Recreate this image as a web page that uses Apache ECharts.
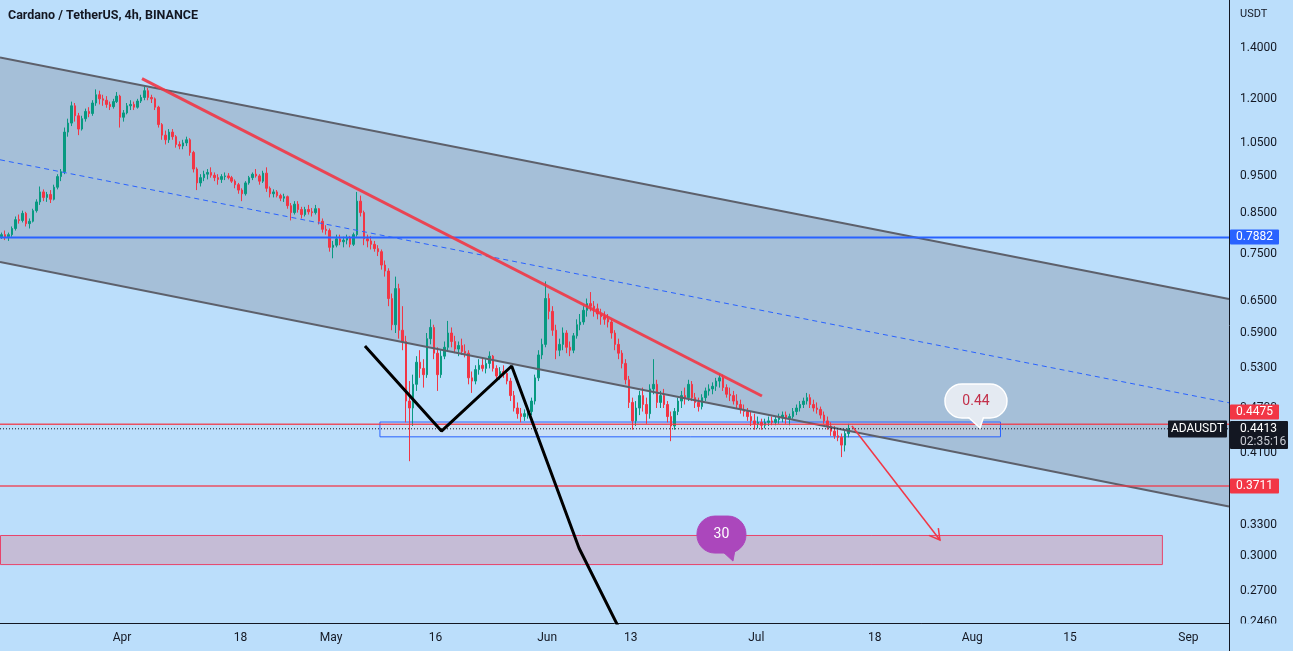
<!DOCTYPE html>
<html><head><meta charset="utf-8">
<script src="https://cdn.jsdelivr.net/npm/echarts@6/dist/echarts.min.js"></script>
<style>html,body{margin:0;padding:0;background:#bbdefb;}#main{width:1293px;height:651px;}</style>
</head><body><div id="main"></div>
<script>
// ---------------- DATA ----------------
// 12h candles, first one opens Mar 14 12:00; x = days relative to Apr 1
const candleStartDay = -17.5;
const candleStepDay = 0.5;
const firstOpen = 0.790;
// each row: [high, low, close]  (open = previous close)
const candles = [
[.800,.785,.795],[.805,.782,.790],[.800,.780,.795],[.815,.790,.810],[.840,.805,.832],[.845,.822,.830],[.855,.825,.848],[.852,.815,.822],
[.835,.810,.828],[.860,.825,.855],[.885,.850,.878],[.920,.870,.905],[.912,.880,.890],[.905,.878,.898],[.910,.875,.885],[.925,.882,.918],
[.955,.912,.948],[.970,.935,.962],[1.100,.955,1.085],[1.130,1.070,1.115],[1.190,1.105,1.175],[1.185,1.120,1.140],[1.150,1.075,1.095],[1.140,1.090,1.130],
[1.165,1.120,1.155],[1.170,1.135,1.148],[1.195,1.140,1.185],[1.235,1.175,1.215],[1.230,1.180,1.200],[1.215,1.175,1.195],[1.210,1.168,1.180],[1.190,1.160,1.172],
[1.200,1.165,1.190],[1.225,1.185,1.210],[1.215,1.100,1.135],[1.160,1.120,1.150],[1.185,1.145,1.175],[1.195,1.160,1.180],[1.190,1.160,1.170],[1.200,1.165,1.192],
[1.215,1.185,1.205],[1.245,1.195,1.230],[1.240,1.195,1.205],[1.215,1.185,1.200],[1.205,1.160,1.170],[1.175,1.100,1.110],[1.115,1.060,1.075],[1.090,1.045,1.060],
[1.095,1.050,1.085],[1.095,1.060,1.070],[1.075,1.035,1.045],[1.055,1.030,1.040],[1.060,1.030,1.050],[1.070,1.040,1.060],[1.065,1.010,1.020],[1.025,.960,.970],
[.975,.910,.930],[.955,.920,.945],[.965,.935,.955],[.970,.940,.960],[.975,.945,.952],[.960,.935,.945],[.955,.925,.940],[.955,.930,.948],
[.960,.938,.950],[.958,.940,.945],[.950,.930,.935],[.940,.915,.925],[.930,.900,.910],[.915,.880,.900],[.935,.895,.930],[.950,.925,.945],
[.960,.938,.955],[.970,.945,.950],[.955,.925,.935],[.965,.930,.958],[.975,.905,.915],[.920,.890,.900],[.912,.890,.905],[.910,.890,.895],
[.900,.880,.888],[.900,.878,.892],[.895,.860,.868],[.875,.830,.850],[.880,.845,.872],[.880,.850,.858],[.865,.835,.845],[.865,.840,.858],
[.870,.845,.852],[.862,.840,.850],[.870,.845,.860],[.862,.820,.828],[.835,.800,.808],[.818,.795,.805],[.810,.755,.765],[.780,.740,.770],
[.795,.765,.785],[.795,.770,.778],[.790,.765,.782],[.795,.772,.788],[.792,.765,.772],[.800,.768,.795],[.905,.790,.880],[.895,.840,.850],
[.855,.770,.785],[.795,.765,.780],[.792,.760,.772],[.780,.755,.762],[.770,.745,.755],[.760,.715,.725],[.735,.700,.712],[.718,.640,.655],
[.665,.595,.605],[.700,.590,.675],[.685,.580,.595],[.640,.560,.575],[.585,.450,.480],[.510,.400,.470],[.520,.445,.505],[.550,.495,.540],
[.560,.515,.530],[.545,.500,.520],[.590,.515,.580],[.615,.570,.600],[.605,.545,.555],[.565,.495,.520],[.560,.515,.550],[.575,.545,.565],
[.612,.558,.590],[.600,.565,.575],[.585,.555,.562],[.575,.550,.568],[.580,.552,.558],[.570,.548,.555],[.560,.505,.515],[.525,.492,.510],
[.535,.505,.528],[.545,.520,.535],[.548,.525,.530],[.545,.522,.538],[.558,.530,.550],[.552,.525,.530],[.535,.510,.518],[.532,.512,.525],
[.535,.515,.522],[.528,.505,.510],[.515,.480,.488],[.495,.465,.470],[.478,.455,.462],[.470,.450,.458],[.468,.452,.462],[.470,.455,.465],
[.485,.460,.480],[.520,.475,.515],[.560,.510,.552],[.580,.545,.570],[.690,.565,.655],[.665,.615,.630],[.640,.585,.595],[.605,.545,.560],
[.580,.550,.570],[.600,.560,.590],[.595,.555,.565],[.575,.550,.560],[.590,.555,.585],[.615,.580,.605],[.625,.595,.610],[.640,.605,.632],
[.655,.620,.645],[.668,.630,.640],[.650,.620,.635],[.645,.615,.625],[.635,.605,.620],[.630,.605,.615],[.625,.600,.610],[.615,.580,.590],
[.595,.560,.570],[.580,.545,.555],[.560,.530,.538],[.545,.505,.512],[.518,.470,.478],[.485,.440,.452],[.480,.445,.470],[.495,.460,.488],
[.500,.465,.475],[.485,.448,.462],[.505,.455,.498],[.545,.490,.505],[.512,.470,.478],[.495,.470,.488],[.498,.470,.475],[.480,.450,.458],
[.465,.425,.445],[.470,.440,.465],[.485,.460,.480],[.495,.470,.488],[.500,.475,.485],[.512,.480,.505],[.510,.480,.485],[.492,.470,.478],
[.485,.465,.472],[.490,.468,.485],[.500,.480,.495],[.505,.488,.498],[.508,.490,.502],[.515,.495,.510],[.522,.500,.515],[.520,.495,.500],
[.505,.485,.490],[.500,.480,.488],[.495,.475,.480],[.490,.470,.475],[.482,.462,.468],[.475,.458,.465],[.470,.452,.458],[.465,.445,.452],
[.462,.440,.448],[.458,.442,.450],[.455,.440,.446],[.455,.442,.450],[.458,.445,.452],[.458,.446,.450],[.458,.446,.454],[.462,.448,.456],
[.465,.450,.460],[.465,.448,.455],[.462,.446,.458],[.470,.455,.465],[.475,.460,.470],[.480,.465,.475],[.485,.470,.480],[.492,.475,.485],
[.490,.470,.475],[.482,.465,.470],[.478,.462,.468],[.472,.455,.460],[.465,.448,.452],[.458,.440,.445],[.450,.432,.438],[.445,.428,.432],
[.440,.425,.430],[.435,.405,.420],[.440,.412,.435],[.448,.430,.4413]
];
const xMinDay = -17.5, xMaxDay = 158.83;
const xTickDays = [0, 17, 30, 45, 61, 73, 91, 108, 122, 136, 153];
const xTickLabels = ['Apr', '18', 'May', '16', 'Jun', '13', 'Jul', '18', 'Aug', '15', 'Sep'];
const yMin = 0.2449, yMax = 1.6194;
const yTicks = [1.4, 1.2, 1.05, 0.95, 0.85, 0.75, 0.65, 0.59, 0.53, 0.47, 0.41, 0.37, 0.33, 0.30, 0.27, 0.246];
// drawings: [day, price]
const channelUpper = [[-17.5, 1.360], [158.83, 0.654]];
const channelLower = [[-17.5, 0.732], [158.83, 0.3486]];
const channelMid = [[-17.5, 0.9976], [158.83, 0.4775]];
const redTrend = [[2.87, 1.276], [91.82, 0.4874]];
const blackPath = [[34.86, 0.5672], [45.84, 0.4383], [55.91, 0.5338], [65.57, 0.3074], [71.45, 0.2397]];
const arrowPath = [[104.73, 0.445], [117.36, 0.315]];
const blueLevel = 0.7882, redLevel1 = 0.4475, redLevel2 = 0.3711, lastPrice = 0.4413;
const blueBox = [[36.94, 0.4511], [125.97, 0.4313]];
const pinkBox = [[-17.5, 0.3198], [149.2, 0.2928]];
const callout1 = { at: [123.1, 0.4423], text: '0.44' };
const callout2 = { at: [87.66, 0.2955], text: '30' };
const titleText = 'Cardano / TetherUS, 4h, BINANCE';
const symbolText = 'ADAUSDT', currencyText = 'USDT', countdownText = '02:35:16';

// ---------------- CHART ----------------
const FONT = 'Roboto, "Liberation Sans", Arial, sans-serif';
const TXT = '#131722';
let prevClose = firstOpen;
const candleData = candles.map((c, i) => {
  const o = prevClose; prevClose = c[2];
  return [candleStartDay + candleStepDay * i + 0.25, o, c[2], c[1], c[0]];
});

function lineSeries(pts, color, width, type, z, opacity) {
  return { type: 'line', data: pts, symbol: 'none', silent: true, z: z, clip: true, animation: false,
    lineStyle: { color: color, width: width, type: type || 'solid', opacity: opacity == null ? 1 : opacity } };
}
function hLine(level, color, width, type, z, opacity) {
  return lineSeries([[xMinDay, level], [xMaxDay, level]], color, width, type, z, opacity);
}
function rectSeries(box, fill, stroke, z) {
  return { type: 'custom', silent: true, z: z, clip: true, animation: false,
    data: [[box[0][0], box[0][1], box[1][0], box[1][1]]], encode: { x: [0, 2], y: [1, 3] },
    renderItem: (params, api) => {
      const a = api.coord([api.value(0), api.value(1)]);
      const b = api.coord([api.value(2), api.value(3)]);
      return { type: 'rect', shape: { x: Math.min(a[0], b[0]) + 0.5, y: Math.min(a[1], b[1]) + 0.5,
        width: Math.abs(b[0] - a[0]), height: Math.abs(b[1] - a[1]) },
        style: { fill: fill, stroke: stroke, lineWidth: 1 } };
    } };
}
function calloutSeries(c, o) {
  return { type: 'custom', silent: true, z: 20, clip: false, animation: false,
    data: [c.at], encode: { x: 0, y: 1 },
    renderItem: (params, api) => {
      const t = api.coord([api.value(0), api.value(1)]);
      return { type: 'group', x: t[0], y: t[1], children: [
        { type: 'rect', shape: { x: o.rx, y: o.ry, width: o.w, height: o.h, r: o.r }, style: { fill: o.fill, stroke: o.stroke, lineWidth: o.lw } },
        { type: 'polygon', shape: { points: o.tail }, style: { fill: o.fill, stroke: o.stroke, lineWidth: o.lw } },
        { type: 'rect', shape: { x: o.rx + 1, y: o.ry + 1, width: o.w - 2, height: o.h - 2, r: o.r - 1 }, style: { fill: o.fill } },
        { type: 'text', x: o.tx, y: o.ty, style: { text: c.text, fill: o.color, font: '14px ' + FONT, align: 'center', verticalAlign: 'middle' } }
      ] };
    } };
}

const chart = echarts.init(document.getElementById('main'), null, { renderer: 'canvas' });
chart.setOption({
  animation: false,
  backgroundColor: '#bbdefb',
  grid: { left: 0, right: 64, top: 0, bottom: 28, containLabel: false, outerBoundsMode: 'none' },
  xAxis: { type: 'value', min: xMinDay, max: xMaxDay, splitLine: { show: false },
    axisLine: { show: true, onZero: false, lineStyle: { color: TXT, width: 1 } }, axisTick: { show: false },
    axisLabel: { customValues: xTickDays, formatter: v => xTickLabels[xTickDays.indexOf(v)] || '',
      color: TXT, fontSize: 12, fontFamily: FONT, margin: 9 } },
  yAxis: { type: 'log', logBase: 10, position: 'right', min: yMin, max: yMax, splitLine: { show: false },
    axisLine: { show: false }, axisTick: { show: false },
    axisLabel: { customValues: yTicks, formatter: v => v.toFixed(4), color: TXT, fontSize: 12, fontFamily: FONT, margin: 11, align: 'left' } },
  series: [
    { type: 'custom', silent: true, z: 1, clip: true, animation: false, data: [channelUpper[0]], encode: { x: 0, y: 1 },
      renderItem: (params, api) => {
        const pts = [channelUpper[0], channelUpper[1], channelLower[1], channelLower[0]].map(p => api.coord(p));
        return { type: 'polygon', shape: { points: pts }, style: { fill: 'rgba(115,120,135,0.3)' } };
      } },
    rectSeries(pinkBox, 'rgba(242,54,69,0.2)', '#e8436a', 2),
    rectSeries(blueBox, 'rgba(255,230,230,0.22)', '#2962ff', 2),
    { type: 'candlestick', data: candleData, encode: { x: 0, y: [1, 2, 3, 4] }, barWidth: 2, z: 3,
      silent: true, animation: false,
      itemStyle: { color: '#089981', color0: '#f23645', borderColor: '#089981', borderColor0: '#f23645', borderWidth: 1 } },
    lineSeries(channelUpper, '#5d606b', 2, 'solid', 4),
    lineSeries(channelLower, '#5d606b', 2, 'solid', 4),
    lineSeries(channelMid, '#2962ff', 1, [5, 4], 4),
    hLine(blueLevel, '#2962ff', 2, 'solid', 5),
    hLine(redLevel1, '#f23645', 1.5, 'solid', 5, 0.85),
    hLine(redLevel2, '#f23645', 1.5, 'solid', 5, 0.85),
    hLine(lastPrice, TXT, 1, [1, 2], 5),
    lineSeries(redTrend, '#f23645', 3, 'solid', 6, 0.9),
    lineSeries(blackPath, '#000000', 3, 'solid', 6),
    { type: 'custom', silent: true, z: 7, clip: true, animation: false, data: [arrowPath[0]], encode: { x: 0, y: 1 },
      renderItem: (params, api) => {
        const a = api.coord(arrowPath[0]), b = api.coord(arrowPath[1]);
        const ang = Math.atan2(b[1] - a[1], b[0] - a[0]), L = 12, s = 0.52;
        const p1 = [b[0] - L * Math.cos(ang - s), b[1] - L * Math.sin(ang - s)];
        const p2 = [b[0] - L * Math.cos(ang + s), b[1] - L * Math.sin(ang + s)];
        return { type: 'group', children: [
          { type: 'line', shape: { x1: a[0], y1: a[1], x2: b[0], y2: b[1] }, style: { stroke: '#f23645', lineWidth: 1.5 } },
          { type: 'polyline', shape: { points: [p1, b, p2] }, style: { stroke: '#f23645', lineWidth: 1.5, fill: null } }
        ] };
      } },
    calloutSeries(callout1, { rx: -35, ry: -44, w: 62, h: 34, r: 17, tail: [[-13, -12], [4, -12], [0, 0]], tx: -4, ty: -27,
      fill: '#e4eaf2', stroke: '#ffffff', lw: 1.5, color: '#c2304a' }),
    calloutSeries(callout2, { rx: -36, ry: -45, w: 49, h: 37, r: 18, tail: [[-12, -11], [2, -11], [0, 0]], tx: -11.5, ty: -26.5,
      fill: '#ab47bc', stroke: '#ab47bc', lw: 1, color: '#ffffff' })
  ]
});

// price-axis labels placed with the chart's own scale
const py = p => chart.convertToPixel({ gridIndex: 0 }, [0, p])[1];
const yB = py(blueLevel), yR1 = py(redLevel1), yR2 = py(redLevel2), yL = py(lastPrice);
const yR1box = Math.min(yR1, yL - 17);
function tag(y, text, bg, x, w) {
  return [
    { type: 'rect', z: 100, shape: { x: x, y: Math.round(y) - 7.5, width: w, height: 15, r: 1 }, style: { fill: bg } },
    { type: 'text', z: 101, x: x + w / 2, y: Math.round(y), style: { text: text, fill: '#ffffff', font: '12px ' + FONT, align: 'center', verticalAlign: 'middle' } }
  ];
}
chart.setOption({ graphic: [].concat(
  [
    { type: 'rect', z: 90, shape: { x: 1230, y: 623.5, width: 63, height: 28 }, style: { fill: '#bbdefb' } },
    { type: 'line', z: 99, shape: { x1: 1229.5, y1: 0, x2: 1229.5, y2: 651 }, style: { stroke: TXT, lineWidth: 1 } },
    { type: 'text', z: 101, x: 8, y: 16, style: { text: titleText, fill: TXT, font: 'bold 12.5px ' + FONT, verticalAlign: 'middle' } },
    { type: 'text', z: 101, x: 1240, y: 14, style: { text: currencyText, fill: TXT, font: '11px ' + FONT, verticalAlign: 'middle' } }
  ],
  tag(yB, blueLevel.toFixed(4), '#2962ff', 1230, 49),
  tag(yR1box, redLevel1.toFixed(4), '#f23645', 1230, 49),
  tag(yR2, redLevel2.toFixed(4), '#f23645', 1230, 49),
  [
    { type: 'rect', z: 100, shape: { x: 1168, y: Math.round(yL) - 8.5, width: 59, height: 17, r: 1 }, style: { fill: TXT } },
    { type: 'text', z: 101, x: 1197.5, y: Math.round(yL), style: { text: symbolText, fill: '#ffffff', font: '12px ' + FONT, align: 'center', verticalAlign: 'middle' } },
    { type: 'rect', z: 100, shape: { x: 1230, y: Math.round(yL) - 8, width: 58, height: 28, r: 1 }, style: { fill: TXT } },
    { type: 'text', z: 101, x: 1240, y: Math.round(yL), style: { text: lastPrice.toFixed(4), fill: '#ffffff', font: '12px ' + FONT, verticalAlign: 'middle' } },
    { type: 'text', z: 101, x: 1240, y: Math.round(yL) + 13, style: { text: countdownText, fill: '#c8cbd3', font: '12px ' + FONT, verticalAlign: 'middle' } }
  ]
) });
</script>
</body></html>
